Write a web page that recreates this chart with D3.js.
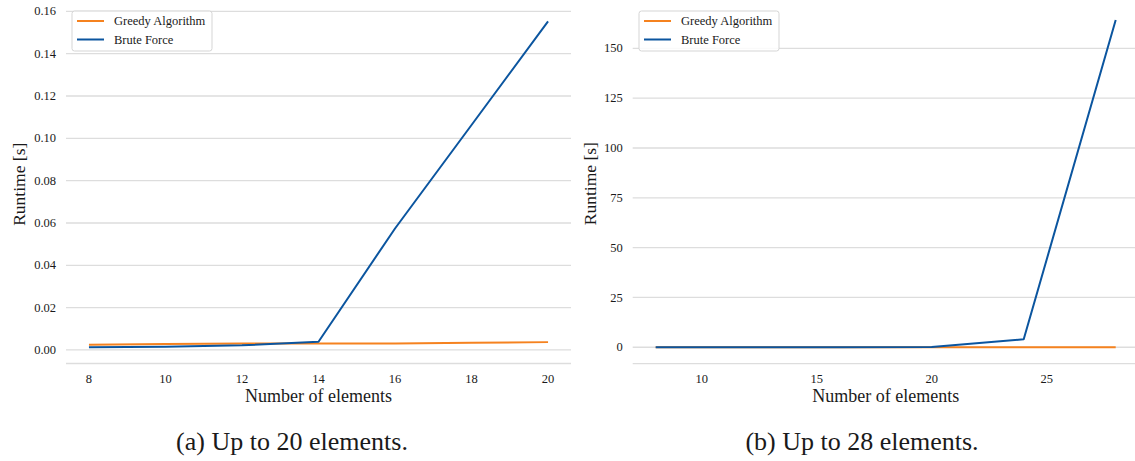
<!DOCTYPE html>
<html>
<head>
<meta charset="utf-8">
<script src="https://cdn.jsdelivr.net/npm/d3@7"></script>
<style>
  html, body { margin: 0; padding: 0; background: #ffffff; }
  svg { display: block; }
  svg text { font-family: "Liberation Serif", "Times New Roman", Times, serif; }
</style>
</head>
<body>
<svg id="chart" width="1135" height="461"></svg>
<script>
// ---- Data ----
const seriesNames = ["Greedy Algorithm", "Brute Force"];
const seriesColors = ["#f5821f", "#0b559f"];

// Panel (a): up to 20 elements
const elementsA = [8, 10, 12, 14, 16, 18, 20];
const greedyA   = [0.0025, 0.0028, 0.0030, 0.0031, 0.0031, 0.0034, 0.0037];
const bruteA    = [0.0013, 0.0015, 0.0022, 0.0039, 0.0574, 0.1063, 0.1553];
const yTicksA   = [0.00, 0.02, 0.04, 0.06, 0.08, 0.10, 0.12, 0.14, 0.16];
const xTicksA   = [8, 10, 12, 14, 16, 18, 20];

// Panel (b): up to 28 elements
const elementsB = [8, 12, 16, 20, 24, 28];
const greedyB   = [0.0025, 0.0030, 0.0031, 0.0037, 0.005, 0.008];
const bruteB    = [0.0013, 0.0022, 0.0574, 0.1553, 4.0, 164.2];
const yTicksB   = [0, 25, 50, 75, 100, 125, 150];
const xTicksB   = [10, 15, 20, 25];

const captions = ["(a) Up to 20 elements.", "(b) Up to 28 elements."];
const xTitle = "Number of elements";
const yTitle = "Runtime [s]";

// ---- Drawing ----
const svg = d3.select("#chart");
const FONT = "'Liberation Serif', 'Times New Roman', Times, serif";
const gridColor = "#dddddd";
const textColor = "#1a1a1a";

function padded(lo, hi) {
  const m = (hi - lo) * 0.05;
  return [lo - m, hi + m];
}

function drawPanel(cfg) {
  const g = svg.append("g").attr("font-family", FONT);
  const allY = cfg.series.flat();
  const x = d3.scaleLinear().domain(padded(d3.min(cfg.xs), d3.max(cfg.xs))).range([cfg.left, cfg.right]);
  const y = d3.scaleLinear().domain(padded(d3.min(allY), d3.max(allY))).range([cfg.bottom, cfg.top]);

  g.append("g").selectAll("line").data(cfg.yTicks).join("line")
    .attr("x1", cfg.left).attr("x2", cfg.right)
    .attr("y1", d => y(d)).attr("y2", d => y(d))
    .attr("stroke", gridColor).attr("stroke-width", 1.3);

  g.append("line")
    .attr("x1", cfg.left).attr("x2", cfg.right)
    .attr("y1", cfg.bottom).attr("y2", cfg.bottom)
    .attr("stroke", gridColor).attr("stroke-width", 1.3);

  g.append("g").selectAll("text").data(cfg.yTicks).join("text")
    .attr("x", cfg.left - 10).attr("y", d => y(d)).attr("dy", "0.33em")
    .attr("text-anchor", "end").attr("font-size", 12.5).attr("fill", textColor)
    .text(d => cfg.yFormat(d));

  g.append("g").selectAll("text").data(cfg.xTicks).join("text")
    .attr("x", d => x(d)).attr("y", 383)
    .attr("text-anchor", "middle").attr("font-size", 12.5).attr("fill", textColor)
    .text(d => d);

  const line = d3.line().x(d => x(d[0])).y(d => y(d[1]));
  cfg.series.forEach((vals, i) => {
    g.append("path")
      .datum(cfg.xs.map((xv, j) => [xv, vals[j]]))
      .attr("d", line)
      .attr("fill", "none")
      .attr("stroke", seriesColors[i])
      .attr("stroke-width", 2)
      .attr("stroke-linejoin", "round");
  });

  g.append("text")
    .attr("x", (cfg.left + cfg.right) / 2).attr("y", 402)
    .attr("text-anchor", "middle").attr("font-size", 18).attr("fill", textColor)
    .text(xTitle);
  g.append("text")
    .attr("transform", `translate(${cfg.yTitleX},${(cfg.top + cfg.bottom) / 2}) rotate(-90)`)
    .attr("text-anchor", "middle").attr("dy", "0.35em").attr("font-size", 17.5).attr("fill", textColor)
    .text(yTitle);

  const lg = g.append("g").attr("transform", `translate(${cfg.legendX},11)`);
  lg.append("rect").attr("width", 140).attr("height", 40).attr("rx", 2.5)
    .attr("fill", "#ffffff").attr("fill-opacity", 0.85)
    .attr("stroke", "#d5d5d5").attr("stroke-width", 1);
  seriesNames.forEach((name, i) => {
    const yy = 10 + i * 18.5;
    lg.append("line").attr("x1", 5).attr("x2", 32).attr("y1", yy).attr("y2", yy)
      .attr("stroke", seriesColors[i]).attr("stroke-width", 2);
    lg.append("text").attr("x", 42).attr("y", yy).attr("dy", "0.33em")
      .attr("font-size", 12.5).attr("fill", textColor).text(name);
  });

  svg.append("text")
    .attr("x", cfg.captionX).attr("y", 450)
    .attr("text-anchor", "middle").attr("font-size", 26).attr("fill", textColor)
    .attr("font-family", FONT)
    .text(cfg.caption);
}

drawPanel({
  xs: elementsA, series: [greedyA, bruteA],
  yTicks: yTicksA, xTicks: xTicksA, yFormat: d3.format(".2f"),
  left: 66, right: 571, top: 5, bottom: 363.5,
  yTitleX: 19, legendX: 72, caption: captions[0], captionX: 292
});

drawPanel({
  xs: elementsB, series: [greedyB, bruteB],
  yTicks: yTicksB, xTicks: xTicksB, yFormat: d3.format("d"),
  left: 632.7, right: 1138.7, top: 3.7, bottom: 363.6,
  yTitleX: 590, legendX: 639, caption: captions[1], captionX: 862
});
</script>
</body>
</html>
